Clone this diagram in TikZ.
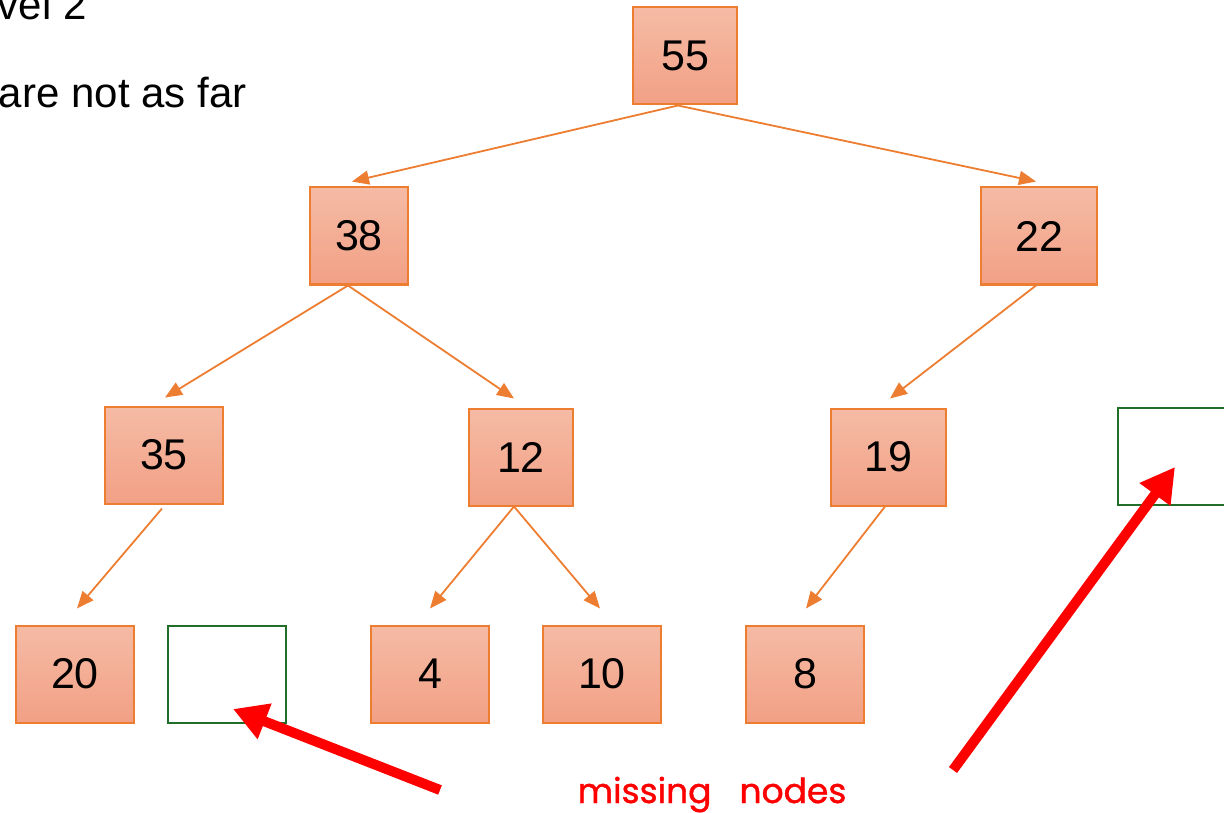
\documentclass[tikz,border=0pt]{standalone}
\usepackage{fontspec}
\setmainfont{Liberation Sans}
\newfontfamily\notefont[FakeBold=1.2]{Poppins}
\usetikzlibrary{arrows.meta}
\definecolor{heapline}{RGB}{237,125,49}
\definecolor{heaptop}{RGB}{245,187,165}
\definecolor{heapbot}{RGB}{242,160,133}
\definecolor{gapline}{RGB}{32,110,40}
\definecolor{alertred}{RGB}{255,0,0}
\begin{document}
\begin{tikzpicture}[x=1pt,y=-1pt,
  key/.style={rectangle, draw=heapline, line width=2pt, top color=heaptop,
    bottom color=heapbot, inner sep=0pt, minimum width=#1, minimum height=97pt,
    font=\fontsize{43}{50}\selectfont},
  key/.default=118pt,
  hole/.style={rectangle, draw=gapline, line width=2pt, fill=white, inner sep=0pt,
    minimum width=118pt, minimum height=97pt},
  edge/.style={draw=heapline, line width=1.8pt,
    -{Triangle[length=17pt,width=14pt]}},
  pointer/.style={draw=alertred, line width=10pt,
    -{Triangle[length=34pt,width=36pt]}},
  prose/.style={anchor=base east, font=\fontsize{42}{50}\selectfont},
]
\useasboundingbox (0,0) rectangle (1224,813);
\clip (0,0) rectangle (1224,813);

% heading text running in from the left
\node[prose] (t1) at (90,20) {vel 2};
\node[prose] (t2) at (250,108) {are not as far};

% heap keys
\node[key=104pt] (n55) at (685,56)  {55};
\node[key=98pt]  (n38) at (359,236) {38};
\node[key=116pt] (n22) at (1039,236) {22};
\node[key=118pt] (n35) at (164,455) {35};
\node[key=104pt] (n12) at (521,457) {12};
\node[key=115pt] (n19) at (888,457) {19};
\node[key]       (n20) at (75,674)  {20};
\node[key]       (n4)  at (430,674) {4};
\node[key]       (n10) at (602,674) {10};
\node[key]       (n8)  at (805,674) {8};

% empty slots
\node[hole] (h1) at (227,674) {};
\node[hole] (h2) at (1177,456) {};

% parent -> child links
\draw[edge] ([xshift=-7pt]n55.south) -- ([xshift=-7pt,yshift=5pt]n38.north);
\draw[edge] ([xshift=-7pt]n55.south) -- ([xshift=-3pt,yshift=5pt]n22.north);
\draw[edge] ([xshift=-11pt]n38.south) -- ([xshift=1pt,yshift=8pt]n35.north);
\draw[edge] ([xshift=-11pt]n38.south) -- ([xshift=-7pt,yshift=9pt]n12.north);
\draw[edge] ([xshift=-3pt]n22.south) -- ([xshift=2pt,yshift=9pt]n19.north);
\draw[edge] ([xshift=-2pt,yshift=-4pt]n35.south) -- ([xshift=2pt,yshift=16pt]n20.north);
\draw[edge] ([xshift=-7pt]n12.south) -- ([yshift=16pt]n4.north);
\draw[edge] ([xshift=-7pt]n12.south) -- ([xshift=-2pt,yshift=16pt]n10.north);
\draw[edge] ([xshift=-3pt]n19.south) -- ([xshift=1pt,yshift=16pt]n8.north);

% pointers to the empty slots
\coordinate (p1) at (440,790);
\coordinate (p2) at (953,770);
\coordinate (q1) at (233,709);
\coordinate (q2) at (1175,467);
\draw[pointer] (p1) -- (q1);
\draw[pointer] (p2) -- (q2);

\node[anchor=base, text=alertred, font=\notefont\fontsize{34.5}{42}\selectfont]
  (lbl) at (712,803) {missing\hspace{28pt}nodes};
\end{tikzpicture}
\end{document}
